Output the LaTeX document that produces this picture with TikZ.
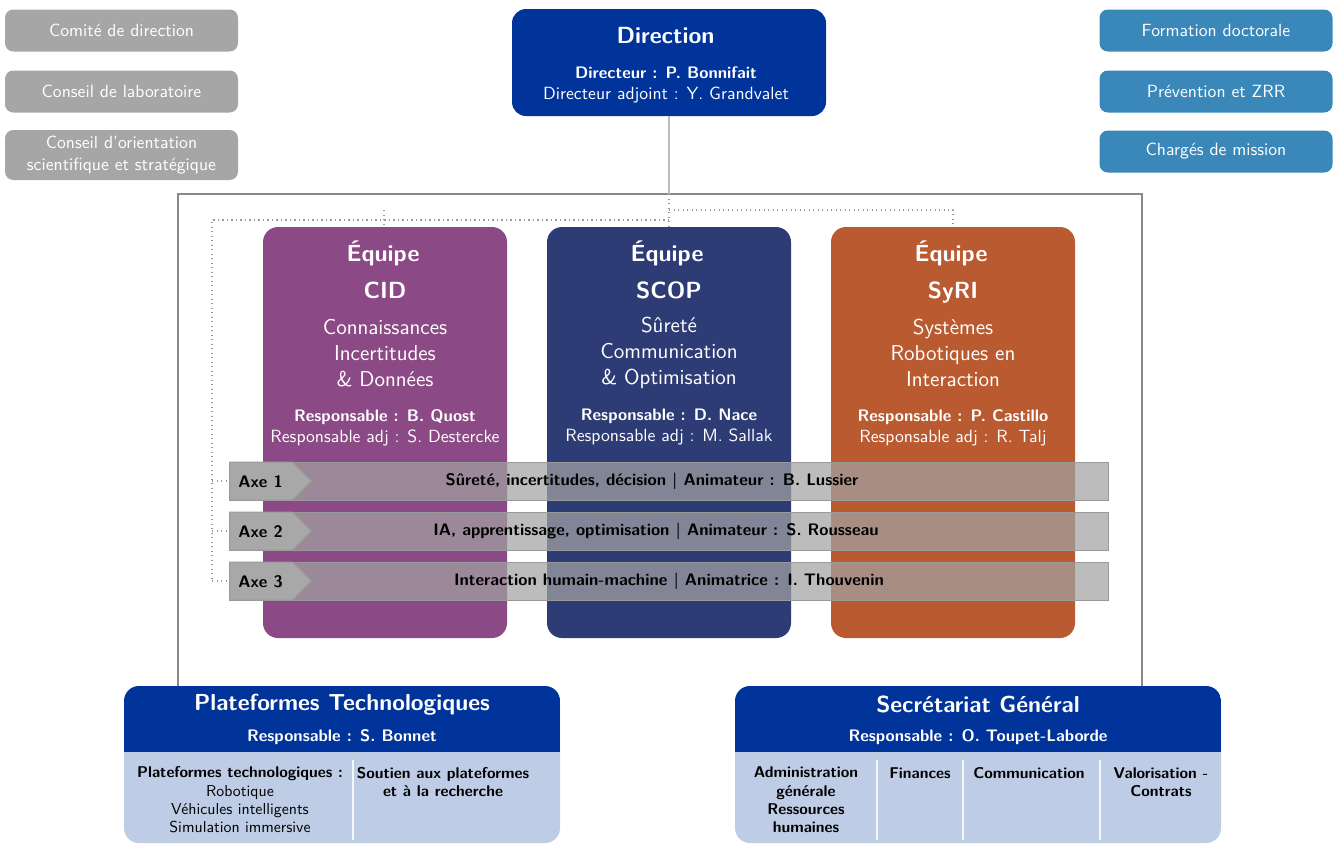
\documentclass[tikz,border=0pt]{standalone}
\usepackage{fontspec}
\usetikzlibrary{shapes.symbols}
\renewcommand{\familydefault}{\sfdefault}
\definecolor{boxgray}{HTML}{A6A6A6}
\definecolor{rblue}{HTML}{3A88BA}
\definecolor{dirblue}{HTML}{00349A}
\definecolor{cidc}{HTML}{8B4A85}
\definecolor{scopc}{HTML}{2E3C75}
\definecolor{syric}{HTML}{B95A30}
\definecolor{lightb}{HTML}{BECCE5}
\definecolor{bargray}{HTML}{A2A2A2}
\definecolor{barborder}{HTML}{9A9A9A}
\definecolor{taggray}{HTML}{A8A8A8}
\definecolor{framegray}{HTML}{888888}
\definecolor{dotgray}{HTML}{999999}
\definecolor{dirline}{HTML}{BBBBBB}
\begin{document}
\begin{tikzpicture}[x=0.6pt,y=-0.6pt,font=\sffamily,
  sidebox/.style={text=white,rounded corners=5pt,minimum width=139.8pt,minimum height=25.2pt,inner sep=0pt,align=center,font=\sffamily\fontsize{10.6}{13.2}\selectfont},
  lbox/.style={sidebox,fill=boxgray},
  rbox/.style={sidebox,fill=rblue},
  dirbox/.style={fill=dirblue,rounded corners=8.4pt,minimum width=188.4pt,minimum height=64.2pt,inner sep=0pt},
  team/.style={rounded corners=9pt,minimum width=146.4pt,minimum height=246.6pt,inner sep=0pt},
  wtxt/.style={text=white,inner sep=0pt,align=center},
  bigb/.style={wtxt,font=\sffamily\bfseries\fontsize{14}{16}\selectfont},
  desc/.style={wtxt,font=\sffamily\fontsize{12.9}{15.6}\selectfont},
  resp/.style={wtxt,font=\sffamily\fontsize{10.6}{12.6}\selectfont},
  bar/.style={fill=bargray,fill opacity=0.72,draw=barborder,line width=0.6pt,minimum width=527.4pt,minimum height=22.8pt,inner sep=0pt},
  tagbox/.style={signal,signal to=east,signal pointer angle=90,fill=taggray,draw=barborder,line width=0.6pt,minimum width=49.2pt,minimum height=22.8pt,inner sep=0pt},
  btxt/.style={text=black,inner sep=0pt,font=\sffamily\bfseries\fontsize{10}{12}\selectfont},
  bbox/.style={fill=lightb,rounded corners=9pt,minimum height=94.2pt,inner sep=0pt,
    path picture={\fill[dirblue,sharp corners] (path picture bounding box.north west) rectangle ([yshift=-39.6pt]path picture bounding box.north east);}},
  htitle/.style={wtxt,font=\sffamily\bfseries\fontsize{13.9}{16}\selectfont},
  hresp/.style={wtxt,font=\sffamily\bfseries\fontsize{10}{12}\selectfont},
  coltxt/.style={text=black,inner sep=0pt,align=center,font=\sffamily\fontsize{9.5}{11}\selectfont},
  colb/.style={coltxt,font=\sffamily\bfseries\fontsize{9.35}{11}\selectfont},
  divider/.style={draw=white!85!lightb,line width=0.7pt},
  framel/.style={draw=framegray,line width=0.7pt},
  dline/.style={draw=dirline,line width=0.9pt},
  dots/.style={draw=dotgray,dotted,line width=0.7pt}]
\useasboundingbox (0,0) rectangle (1336,843);

% side boxes
\node[lbox] (comite) at (121.5,30.5) {Comité de direction};
\node[lbox] (conseil) at (121.5,91.5) {Conseil de laboratoire};
\node[lbox,minimum height=30pt] (cos) at (121.5,155) {Conseil d'orientation\\scientifique et stratégique};
\node[rbox] (formation) at (1216,30.5) {Formation doctorale};
\node[rbox] (prevention) at (1216,91.5) {Prévention et ZRR};
\node[rbox] (charges) at (1216,151.5) {Chargés de mission};

% direction
\node[dirbox] (dir) at (669,62.5) {};
\node[bigb] (dirt) at (665.5,36) {Direction};
\node[resp] (dirp) at (666,84.5) {\textbf{\fontsize{10}{12.6}\selectfont Directeur : P. Bonnifait}\\Directeur adjoint : Y. Grandvalet};

% frame
\draw[framel] (178,686) -- (178,194) -- (1142,194) -- (1142,686);
\coordinate (ftop) at (669,194);
\draw[dline] (dir.south) -- (ftop);

% teams
\node[team,fill=cidc] (cid) at (385,432.5) {};
\node[team,fill=scopc] (scop) at (669,432.5) {};
\node[team,fill=syric] (syri) at (953,432.5) {};

% dotted links
\coordinate (jr) at (669,210);
\coordinate (jl) at (669,220);
\coordinate (jc) at (384,210);
\coordinate (ax) at (212,220);
\draw[dots] (ftop) -- (scop.north);
\draw[dots] (jr) -| (syri.north);
\draw[dots] (jc) -- (cid.north -| jc);
\draw[dots] (jl) -- (ax) -- (212,581);

\foreach \t/\n/\c in {cid/CID/385, scop/SCOP/669, syri/SyRI/953}{
  \node[bigb] (\t-eq) at (\c-2,253.5) {Équipe};
  \node[bigb,anchor=base] (\t-nm) at (\c,298) {\n};
}
\node[desc] (cid-d) at (385,353) {Connaissances\\Incertitudes\\\& Données};
\node[desc] (scop-d) at (669,353) {Sûreté\\Communication\\\& Optimisation};
\node[desc] (syri-d) at (953,353) {Systèmes\\Robotiques en\\Interaction};
\node[resp] (cid-r) at (385,427.5) {\textbf{\fontsize{10}{12.6}\selectfont Responsable : B. Quost}\\Responsable adj : S. Destercke};
\node[resp] (scop-r) at (669,427.5) {\textbf{\fontsize{10}{12.6}\selectfont Responsable : D. Nace}\\Responsable adj : M. Sallak};
\node[resp] (syri-r) at (953,427.5) {\textbf{\fontsize{10}{12.6}\selectfont Responsable : P. Castillo}\\Responsable adj : R. Talj};

% axes
\node[bar] (bar1) at (668.5,481) {};
\node[bar] (bar2) at (668.5,531) {};
\node[bar] (bar3) at (668.5,581) {};
\node[tagbox,anchor=west] (tag1) at (229,481) {};
\node[tagbox,anchor=west] (tag2) at (229,531) {};
\node[tagbox,anchor=west] (tag3) at (229,581) {};
\draw[dots] (212,481) -- (tag1.west);
\draw[dots] (212,531) -- (tag2.west);
\draw[dots] (212,581) -- (tag3.west);
\node[btxt,anchor=west] (axe1) at (238,482) {Axe 1};
\node[btxt,anchor=west] (axe2) at (238,532) {Axe 2};
\node[btxt,anchor=west] (axe3) at (238,582) {Axe 3};
\node[btxt] (bt1) at (652,481.5) {Sûreté, incertitudes, décision | Animateur : B. Lussier};
\node[btxt] (bt2) at (656,531.5) {IA, apprentissage, optimisation | Animateur : S. Rousseau};
\node[btxt] (bt3) at (669,581.5) {Interaction humain-machine | Animatrice : I. Thouvenin};

% bottom boxes
\node[bbox,minimum width=261.6pt] (pf) at (342,764.5) {};
\node[htitle] (pft) at (342,705) {Plateformes Technologiques};
\node[hresp] (pfr) at (342,737.5) {Responsable : S. Bonnet};
\draw[divider] (353,760) -- (353,840);
\node[coltxt] (pf1) at (240,800) {\textbf{\fontsize{9.35}{11}\selectfont Plateformes technologiques :}\\Robotique\\Véhicules intelligents\\Simulation immersive};
\node[colb] (pf2) at (443,782) {Soutien aux plateformes\\et à la recherche};

\node[bbox,minimum width=291.6pt] (sg) at (978,764.5) {};
\node[htitle] (sgt) at (978,704) {Secrétariat Général};
\node[hresp] (sgr) at (978,737.5) {Responsable : O. Toupet-Laborde};
\draw[divider] (877,760) -- (877,840);
\draw[divider] (963,760) -- (963,840);
\draw[divider] (1100,760) -- (1100,840);
\node[colb] (sg1) at (806,800) {Administration\\générale\\Ressources\\humaines};
\node[colb] (sg2) at (920,773) {Finances};
\node[colb] (sg3) at (1029,773) {Communication};
\node[colb] (sg4) at (1161,782) {Valorisation -\\Contrats};
\end{tikzpicture}
\end{document}
